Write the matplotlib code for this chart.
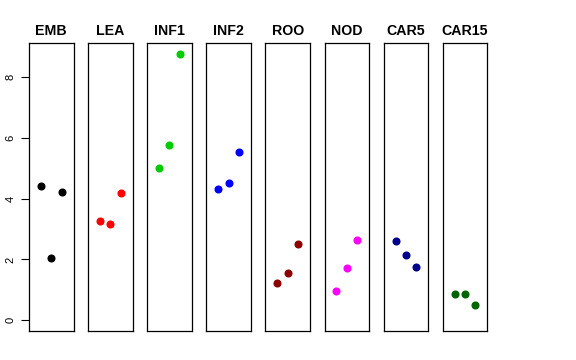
import matplotlib
matplotlib.use("Agg")
import matplotlib.pyplot as plt

# ---- data
groups = ["EMB", "LEA", "INF1", "INF2", "ROO", "NOD", "CAR5", "CAR15"]
colors = ["black", "red", "#00CD00", "blue", "darkred", "magenta", "darkblue", "darkgreen"]
xs = [1, 2, 3]
values = {
    "EMB": [4.42, 2.04, 4.22],
    "LEA": [3.26, 3.15, 4.18],
    "INF1": [5.02, 5.76, 8.76],
    "INF2": [4.33, 4.51, 5.52],
    "ROO": [1.24, 1.56, 2.50],
    "NOD": [0.95, 1.71, 2.63],
    "CAR5": [2.62, 2.13, 1.74],
    "CAR15": [0.88, 0.88, 0.52],
}
y_ticks = [0, 2, 4, 6, 8]

# ---- layout (pixels in a 576x360 figure)
W, H = 576, 360
left0, step, width = 29, 59.1, 44.5
bottom, top = 331, 43

plt.rcParams["font.family"] = ["Liberation Sans", "DejaVu Sans"]
fig = plt.figure(figsize=(W / 100, H / 100), dpi=100)

ymax = max(max(v) for v in values.values())
pad_y = 0.04 * ymax

for i, (g, c) in enumerate(zip(groups, colors)):
    x0 = left0 + i * step
    ax = fig.add_axes([x0 / W, (H - bottom) / H, width / W, (bottom - top) / H])
    ax.plot(xs, values[g], "o", color=c, ms=4.8, mec=c)
    ax.set_xlim(0 - 0.16, 4 + 0.16)
    ax.set_ylim(-pad_y, ymax + pad_y)
    ax.set_xticks([])
    ax.set_title(g, fontsize=10.2, fontweight="bold", pad=6)
    for s in ax.spines.values():
        s.set_linewidth(0.9)
    if i == 0:
        ax.set_yticks(y_ticks)
        ax.tick_params(axis="y", length=5.5, width=0.8, labelsize=8, pad=4)
        for lab in ax.get_yticklabels():
            lab.set_rotation(90)
            lab.set_va("center")
    else:
        ax.set_yticks([])

fig.savefig("out.png", dpi=100)
